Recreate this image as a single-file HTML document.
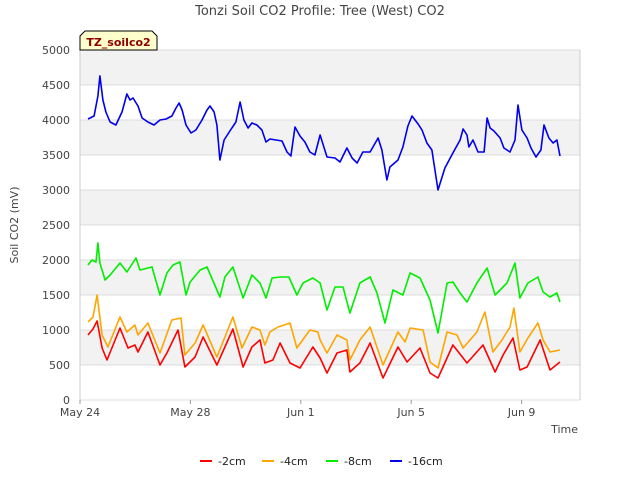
<!DOCTYPE html>
<html><head><meta charset="utf-8"><style>
body{margin:0;background:#fff;font-family:"Liberation Sans","DejaVu Sans",sans-serif}
svg text{font-family:"DejaVu Sans","Liberation Sans",sans-serif}
</style></head><body>
<svg id="c" width="640" height="480" viewBox="0 0 640 480" xmlns="http://www.w3.org/2000/svg">
<text x="320" y="15" text-anchor="middle" font-size="13" fill="#444">Tonzi Soil CO2 Profile: Tree (West) CO2</text>
<g id="bands"></g>
<g id="grid"></g>
<g id="yt"></g>
<g id="xt"></g>
<g id="series"></g>
<text transform="translate(18,225) rotate(-90)" text-anchor="middle" font-size="11" fill="#444">Soil CO2 (mV)</text>
<text x="578" y="433" text-anchor="end" font-size="11" fill="#444">Time</text>
<g>
<path d="M80,50 L80,36 L85,31 L152,31 L157,36 L157,50 Z" fill="#ffffcc" stroke="#000" stroke-width="1"/>
<text x="118.5" y="46" text-anchor="middle" font-size="11" font-weight="bold" fill="#8b0000">TZ_soilco2</text>
</g>
<g id="legend"></g>
</svg>
<script>
const yTicks=[0,500,1000,1500,2000,2500,3000,3500,4000,4500,5000];
const xTickDays=[0,4,8,12,16];
const xTickLabels=["May 24","May 28","Jun 1","Jun 5","Jun 9"];
const seriesNames=["-2cm","-4cm","-8cm","-16cm"];
const seriesColors=["#ff0000","#ffa500","#00ee00","#0000ee"];
const d2cm=[0.29,0.47,0.62,0.80,0.98,1.45,1.74,1.99,2.10,2.46,2.90,3.15,3.55,3.80,4.17,4.46,4.96,5.54,5.91,6.23,6.52,6.70,6.99,7.25,7.61,7.97,8.44,8.70,8.95,9.31,9.67,9.78,10.14,10.51,10.98,11.52,11.85,12.32,12.68,12.97,13.51,14.02,14.60,15.04,15.33,15.69,15.94,16.20,16.67,17.03,17.39];
const v2cm=[929,1014,1129,743,571,1029,743,786,686,971,500,671,1000,471,614,900,500,1014,471,757,857,529,571,814,529,457,757,600,386,671,714,400,529,814,314,757,543,743,386,314,786,529,786,400,643,886,429,471,857,429,543];
const d4cm=[0.29,0.47,0.62,0.80,1.01,1.45,1.70,1.99,2.10,2.46,2.90,3.33,3.66,3.80,4.17,4.46,4.96,5.54,5.87,6.23,6.52,6.70,6.88,7.17,7.61,7.86,8.33,8.62,8.70,8.95,9.31,9.67,9.78,10.14,10.51,10.98,11.52,11.78,11.96,12.43,12.68,12.97,13.30,13.66,13.88,14.38,14.67,14.96,15.29,15.58,15.72,15.94,16.23,16.59,16.78,17.03,17.39];
const v4cm=[1114,1186,1500,929,757,1186,971,1071,929,1100,671,1143,1171,643,814,1071,614,1186,743,1043,1000,786,971,1043,1100,743,1000,971,857,671,929,857,571,857,1043,500,971,829,1029,1000,543,457,971,929,743,971,1257,686,857,1043,1314,686,886,1100,857,686,714];
const d8cm=[0.29,0.43,0.58,0.65,0.72,0.91,1.09,1.45,1.70,2.03,2.17,2.61,2.90,3.15,3.37,3.62,3.84,3.99,4.35,4.60,5.07,5.25,5.54,5.91,6.23,6.52,6.74,6.96,7.25,7.57,7.86,8.08,8.44,8.70,8.95,9.24,9.53,9.78,10.14,10.51,10.76,11.05,11.34,11.70,11.96,12.32,12.68,12.97,13.30,13.51,13.77,14.02,14.38,14.75,15.04,15.47,15.76,15.94,16.23,16.59,16.78,17.03,17.28,17.39];
const v8cm=[1929,2000,1971,2243,1957,1714,1786,1957,1829,2029,1857,1900,1500,1814,1929,1971,1500,1686,1857,1900,1471,1757,1900,1457,1786,1671,1457,1743,1757,1757,1500,1671,1743,1671,1286,1614,1614,1243,1671,1757,1529,1100,1571,1500,1814,1743,1429,957,1671,1686,1529,1400,1671,1886,1500,1671,1957,1457,1671,1757,1543,1471,1529,1400];
const d16cm=[0.29,0.51,0.65,0.72,0.83,0.94,1.09,1.30,1.52,1.70,1.81,1.92,2.10,2.25,2.46,2.68,2.90,3.12,3.33,3.48,3.59,3.70,3.84,4.02,4.20,4.42,4.60,4.71,4.86,4.96,5.07,5.22,5.43,5.65,5.80,5.94,6.09,6.23,6.41,6.59,6.74,6.88,7.10,7.32,7.50,7.64,7.79,7.97,8.15,8.33,8.51,8.70,8.95,9.24,9.42,9.67,9.86,10.04,10.25,10.51,10.80,10.94,11.12,11.23,11.52,11.70,11.88,12.03,12.25,12.39,12.57,12.75,12.97,13.22,13.51,13.77,13.88,14.02,14.09,14.24,14.42,14.64,14.75,14.86,15.00,15.22,15.36,15.58,15.76,15.87,16.01,16.20,16.34,16.52,16.70,16.81,16.99,17.14,17.28,17.39];
const v16cm=[4014,4057,4343,4630,4286,4114,3971,3929,4114,4371,4286,4314,4200,4029,3971,3929,4000,4014,4057,4171,4243,4143,3929,3814,3857,4000,4143,4200,4114,3929,3429,3714,3843,3971,4257,4000,3886,3957,3929,3857,3686,3729,3714,3700,3543,3486,3900,3771,3686,3543,3500,3786,3471,3457,3400,3600,3457,3386,3543,3543,3743,3571,3143,3329,3429,3614,3914,4057,3943,3857,3671,3571,3000,3314,3529,3714,3871,3786,3614,3714,3543,3543,4029,3886,3843,3743,3600,3543,3714,4214,3857,3743,3600,3471,3571,3929,3743,3671,3714,3486];

const L=80,R=580,T=50,B=400,NS='http://www.w3.org/2000/svg';
const X=d=>L+d*27.6;
const Y=v=>B-(v/5000)*(B-T);
function mk(tag,attrs,parent){const e=document.createElementNS(NS,tag);for(const k in attrs)e.setAttribute(k,attrs[k]);parent.appendChild(e);return e;}
const bands=document.getElementById('bands'),grid=document.getElementById('grid'),yt=document.getElementById('yt'),xt=document.getElementById('xt');
mk('rect',{x:L,y:T,width:R-L,height:B-T,fill:'#fff'},bands);
for(let i=0;i<yTicks.length-1;i++){
  if(i%2===1){const r=mk('rect',{x:L,y:Y(yTicks[i+1]),width:R-L,height:Y(yTicks[i])-Y(yTicks[i+1]),fill:'#f2f2f2'},bands);
  
  }
}
yTicks.forEach(v=>{
  const l=mk('line',{x1:L,x2:R,y1:Y(v),y2:Y(v),stroke:'#dcdcdc','stroke-width':1},grid);
  
  
  const t=mk('text',{x:L-10,y:Y(v)+4,'text-anchor':'end','font-size':11,fill:'#444'},yt);
  t.textContent=v;
  
  
});
mk('line',{x1:L,x2:L,y1:T,y2:B,stroke:'#ccc'},grid);
mk('line',{x1:R,x2:R,y1:T,y2:B,stroke:'#ccc'},grid);
xTickDays.forEach((d,i)=>{
  mk('line',{x1:X(d),x2:X(d),y1:B,y2:B+4,stroke:'#999'},xt);
  const t=mk('text',{x:X(d),y:B+16,'text-anchor':'middle','font-size':11,fill:'#444'},xt);
  t.textContent=xTickLabels[i];
  
  
});
const sg=document.getElementById('series');
const allD=[d2cm,d4cm,d8cm,d16cm],allV=[v2cm,v4cm,v8cm,v16cm];
for(let s=0;s<4;s++){
  const pts=allD[s].map((d,i)=>X(d).toFixed(1)+','+Y(allV[s][i]).toFixed(1)).join(' ');
  const p=mk('polyline',{points:pts,fill:'none',stroke:seriesColors[s],'stroke-width':1.6,'stroke-linejoin':'round'},sg);
  
  
}
const lg=document.getElementById('legend');
const lx=[200,262,326,390];
for(let s=0;s<4;s++){
  const g=mk('g',{},lg);
  
  
  mk('line',{x1:lx[s],x2:lx[s]+12,y1:461,y2:461,stroke:seriesColors[s],'stroke-width':2},g);
  const t=mk('text',{x:lx[s]+18,y:465,'font-size':11,fill:'#222'},g);
  t.textContent=seriesNames[s];
}
</script>
</body></html>
